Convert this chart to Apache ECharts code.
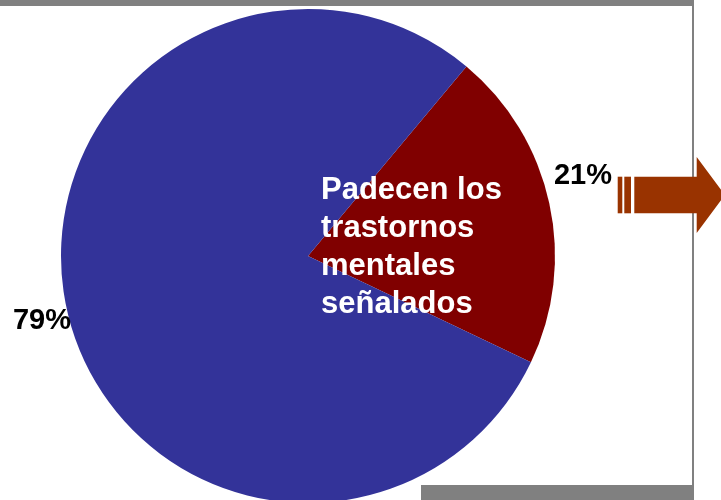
<!DOCTYPE html>
<html>
<head>
<meta charset="utf-8">
<script src="https://cdn.jsdelivr.net/npm/echarts@6/dist/echarts.min.js"></script>
<style>
  html, body { margin: 0; padding: 0; background: #ffffff; }
  #chart { width: 721px; height: 500px; }
</style>
</head>
<body>
<div id="chart"></div>
<script>
// Share of people with / without the listed mental disorders
const categories = ['Padecen los trastornos mentales señalados', 'No padecen'];
const shares = [21, 79];
const sliceColors = ['#800000', '#333399'];
const caption = ['Padecen los', 'trastornos', 'mentales', 'señalados'];

// Where each percentage label sits, by slice index
const labelSpots = [
  { x: 583, y: 176 },
  { x: 42, y: 321 }
];

const FONT = '"Liberation Sans", Arial, sans-serif';
const GRAY = '#808080';

const chart = echarts.init(document.getElementById('chart'), null, { renderer: 'canvas' });

chart.setOption({
  backgroundColor: '#ffffff',
  animation: false,
  series: [{
    type: 'pie',
    center: [308, 256],
    radius: [0, 247],
    startAngle: 50.1,
    clockwise: true,
    avoidLabelOverlap: false,
    silent: true,
    z: 2,
    data: categories.map((name, i) => ({
      name: name,
      value: shares[i],
      itemStyle: { color: sliceColors[i] }
    })),
    itemStyle: { borderWidth: 0 },
    label: {
      show: true,
      position: 'outside',
      formatter: '{d}%',
      color: '#000000',
      fontFamily: FONT,
      fontWeight: 'bold',
      fontSize: 29
    },
    labelLine: { show: false },
    labelLayout: function (params) {
      const spot = labelSpots[params.dataIndex];
      return { x: spot.x, y: spot.y, align: 'center', verticalAlign: 'middle' };
    }
  }],
  graphic: [
    // frame: top bar, right rule, bottom bar
    { type: 'rect', z: 1, shape: { x: 0, y: 0, width: 694, height: 6 }, style: { fill: GRAY } },
    { type: 'rect', z: 1, shape: { x: 692, y: 0, width: 2, height: 500 }, style: { fill: GRAY } },
    { type: 'rect', z: 1, shape: { x: 421, y: 485, width: 273, height: 15 }, style: { fill: GRAY } },
    // arrow pointing right
    { type: 'rect', z: 5, shape: { x: 617.7, y: 176.7, width: 4.6, height: 36.6 }, style: { fill: '#993300' } },
    { type: 'rect', z: 5, shape: { x: 624.3, y: 176.7, width: 6.7, height: 36.6 }, style: { fill: '#993300' } },
    {
      type: 'polygon', z: 5,
      shape: { points: [[634.3, 176.7], [696.7, 176.7], [696.7, 157], [725, 195], [696.7, 233], [696.7, 213.3], [634.3, 213.3]] },
      style: { fill: '#993300' }
    },
    // caption inside the red slice
    {
      type: 'text', z: 10,
      left: 321, top: 171,
      style: {
        text: caption.join('\n'),
        fill: '#ffffff',
        font: 'bold 31px ' + FONT,
        lineHeight: 38
      }
    }
  ]
});
</script>
</body>
</html>
